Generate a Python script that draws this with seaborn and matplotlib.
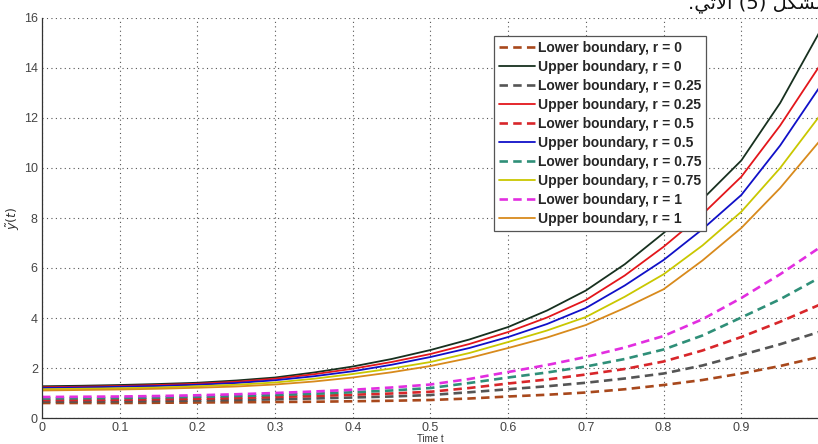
import numpy as np
import pandas as pd
import matplotlib
matplotlib.use("Agg")
import matplotlib.pyplot as plt
import seaborn as sns

# ---------------- data ----------------
t = [0.00, 0.05, 0.10, 0.15, 0.20, 0.25, 0.30, 0.35, 0.40, 0.45, 0.50,
     0.55, 0.60, 0.65, 0.70, 0.75, 0.80, 0.85, 0.90, 0.95, 1.00]

lower_r0 = [0.60, 0.60, 0.60, 0.61, 0.62, 0.63, 0.64, 0.65, 0.67, 0.69, 0.72,
            0.78, 0.86, 0.93, 1.02, 1.15, 1.32, 1.52, 1.78, 2.08, 2.44]
upper_r0 = [1.27, 1.29, 1.32, 1.36, 1.41, 1.50, 1.62, 1.82, 2.06, 2.36, 2.72,
            3.14, 3.64, 4.30, 5.10, 6.15, 7.40, 8.75, 10.30, 12.60, 15.40]
lower_r025 = [0.66, 0.66, 0.67, 0.68, 0.70, 0.72, 0.75, 0.78, 0.82, 0.86, 0.92,
              1.03, 1.15, 1.27, 1.41, 1.58, 1.78, 2.10, 2.52, 2.95, 3.44]
upper_r025 = [1.23, 1.25, 1.28, 1.32, 1.37, 1.45, 1.57, 1.75, 1.97, 2.24, 2.56,
              2.96, 3.44, 4.02, 4.72, 5.70, 6.85, 8.15, 9.65, 11.70, 14.05]
lower_r05 = [0.72, 0.72, 0.73, 0.75, 0.77, 0.80, 0.84, 0.88, 0.93, 0.98, 1.05,
             1.20, 1.38, 1.54, 1.74, 1.96, 2.26, 2.70, 3.24, 3.85, 4.52]
upper_r05 = [1.20, 1.22, 1.25, 1.28, 1.33, 1.40, 1.51, 1.67, 1.87, 2.13, 2.44,
             2.80, 3.24, 3.76, 4.40, 5.30, 6.32, 7.55, 8.92, 10.90, 13.20]
lower_r075 = [0.78, 0.79, 0.80, 0.82, 0.85, 0.88, 0.92, 0.97, 1.03, 1.10, 1.20,
              1.40, 1.62, 1.82, 2.06, 2.36, 2.74, 3.30, 4.02, 4.75, 5.60]
upper_r075 = [1.15, 1.17, 1.19, 1.22, 1.27, 1.33, 1.42, 1.57, 1.76, 1.98, 2.24,
              2.60, 3.04, 3.50, 4.04, 4.85, 5.75, 6.90, 8.25, 10.00, 12.05]
lower_r1 = [0.84, 0.85, 0.86, 0.88, 0.91, 0.95, 1.00, 1.06, 1.13, 1.22, 1.34,
            1.56, 1.84, 2.12, 2.44, 2.82, 3.28, 3.95, 4.80, 5.75, 6.80]
upper_r1 = [1.10, 1.12, 1.14, 1.17, 1.21, 1.26, 1.34, 1.46, 1.62, 1.83, 2.08,
            2.40, 2.80, 3.22, 3.72, 4.40, 5.15, 6.30, 7.60, 9.20, 11.05]

labels = ["Lower boundary, r = 0", "Upper boundary, r = 0",
          "Lower boundary, r = 0.25", "Upper boundary, r = 0.25",
          "Lower boundary, r = 0.5", "Upper boundary, r = 0.5",
          "Lower boundary, r = 0.75", "Upper boundary, r = 0.75",
          "Lower boundary, r = 1", "Upper boundary, r = 1"]
series = [lower_r0, upper_r0, lower_r025, upper_r025, lower_r05, upper_r05,
          lower_r075, upper_r075, lower_r1, upper_r1]

xticks = [0, 0.1, 0.2, 0.3, 0.4, 0.5, 0.6, 0.7, 0.8, 0.9]
xtick_labels = ["0", "0.1", "0.2", "0.3", "0.4", "0.5", "0.6", "0.7", "0.8", "0.9"]
yticks = [0, 2, 4, 6, 8, 10, 12, 14, 16]

# ---------------- style ----------------
colors = ["#a8481c", "#17301f", "#555555", "#e3161b", "#d8262a",
          "#1010c8", "#2f8f78", "#c9c700", "#e22ee0", "#d88a1c"]
dashed = [True, False, True, False, True, False, True, False, True, False]

sns.set_theme(style="white")
plt.rcParams["font.family"] = ["Liberation Sans", "DejaVu Sans"]

fig = plt.figure(figsize=(8.18, 4.44), dpi=100)
ax = fig.add_axes([42 / 818, 26 / 444, 777 / 818, 400 / 444])

for lab, vals, col, dsh in zip(labels, series, colors, dashed):
    df = pd.DataFrame({"t": t, "y": vals})
    if dsh:
        sns.lineplot(data=df, x="t", y="y", ax=ax, color=col, lw=1.9,
                     label=lab, dashes=False, linestyle=(0, (3.2, 2.0)))
    else:
        sns.lineplot(data=df, x="t", y="y", ax=ax, color=col, lw=1.3,
                     label=lab)

ax.set_xlim(0, 1)
ax.set_ylim(0, 16)
ax.set_xticks(xticks)
ax.set_xticklabels(xtick_labels)
ax.set_yticks(yticks)
ax.tick_params(direction="in", length=5, width=0.8, colors="#222222",
               labelsize=9, labelcolor="#444444", pad=3)
ax.grid(True, linestyle=(0, (1, 3)), color="#555555", linewidth=0.8)

for s in ["top", "right"]:
    ax.spines[s].set_visible(False)
for s in ["left", "bottom"]:
    ax.spines[s].set_color("#333333")
    ax.spines[s].set_linewidth(0.9)

ax.set_xlabel("Time t", fontsize=7, labelpad=0, color="#333333")
ax.set_ylabel(r"$\tilde{y}(t)$", fontsize=9, color="#333333")
ax.yaxis.set_label_coords(-0.026, 0.5)

leg = ax.legend(loc="upper left", bbox_to_anchor=(0.582, 0.955),
                prop={"family": "Liberation Sans", "weight": "bold", "size": 10},
                frameon=True, fancybox=False, framealpha=1, edgecolor="#555555",
                handlelength=2.6, handletextpad=0.2, labelspacing=0.36,
                borderpad=0.35, borderaxespad=0)
leg.get_frame().set_linewidth(0.9)

# clipped Arabic caption fragment at the top edge (visual order, presentation forms)
fig.text(688 / 818, 1 - 8 / 444,
         ".\uFEF2\uFE97\uFEF5\uFE8D (5) \uFEDE\uFEDC\uFEB8\uFEDF\uFE8D",
         family="DejaVu Sans", fontsize=14, color="#111111",
         ha="left", va="baseline")

fig.savefig("out.png", dpi=100)
